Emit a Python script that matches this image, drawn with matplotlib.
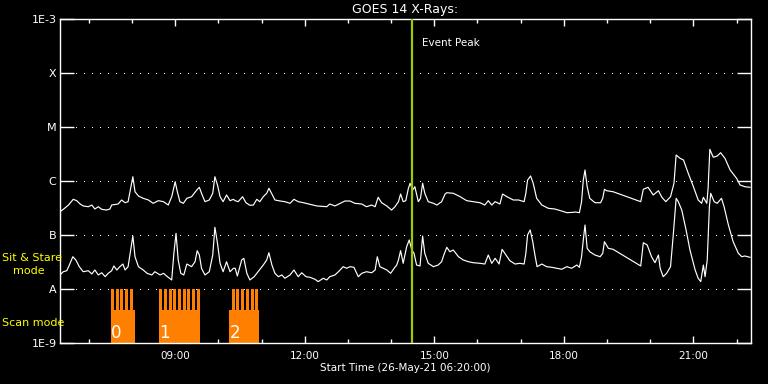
import matplotlib
matplotlib.use("Agg")
import matplotlib.pyplot as plt
from matplotlib.ticker import NullLocator
import numpy as np

# ---------------- data ----------------
# time in decimal hours (UT) on 26-May-21, flux in units of 1e-7 W/m^2
long_t = [6.33, 6.41, 6.53, 6.64, 6.72, 6.80, 6.87, 6.99, 7.07, 7.14,
          7.22, 7.30, 7.41, 7.49, 7.53, 7.68, 7.76, 7.84, 7.91, 7.97,
          8.02, 8.07, 8.15, 8.26, 8.38, 8.49, 8.61, 8.73, 8.84, 8.92,
          9.00, 9.05, 9.11, 9.19, 9.27, 9.38, 9.50, 9.56, 9.61, 9.69,
          9.79, 9.87, 9.92, 9.98, 10.04, 10.11, 10.19, 10.27, 10.35, 10.39,
          10.46, 10.56, 10.64, 10.73, 10.81, 10.89, 10.96, 11.04, 11.12, 11.17,
          11.24, 11.31, 11.43, 11.54, 11.66, 11.75, 11.85, 11.97, 12.12, 12.28,
          12.51, 12.58, 12.70, 12.82, 12.93, 13.05, 13.16, 13.32, 13.43, 13.55,
          13.63, 13.70, 13.78, 13.90, 14.01, 14.09, 14.17, 14.22, 14.28, 14.34,
          14.40, 14.44, 14.50, 14.55, 14.63, 14.68, 14.73, 14.78, 14.86, 14.98,
          15.06, 15.17, 15.25, 15.29, 15.44, 15.60, 15.75, 15.90, 16.06, 16.17,
          16.25, 16.33, 16.41, 16.52, 16.58, 16.68, 16.83, 16.95, 17.08, 17.12,
          17.16, 17.23, 17.29, 17.37, 17.49, 17.64, 17.79, 17.95, 18.07, 18.22,
          18.26, 18.36, 18.41, 18.45, 18.49, 18.54, 18.60, 18.72, 18.85, 18.90,
          18.94, 18.99, 19.14, 19.78, 19.84, 19.95, 20.07, 20.19, 20.27, 20.36,
          20.47, 20.55, 20.60, 20.69, 20.77, 20.88, 21.00, 21.11, 21.19, 21.23,
          21.31, 21.34, 21.38, 21.46, 21.55, 21.63, 21.73, 21.85, 22.00, 22.08,
          22.19, 22.31]
long_flux = [2.70, 2.99, 3.59, 4.58, 4.32, 3.75, 3.45, 3.34, 3.59, 3.03,
             3.34, 2.99, 2.90, 3.03, 3.59, 3.75, 4.45, 3.96, 4.14, 7.32,
             12.0, 6.33, 5.27, 4.78, 4.45, 3.86, 4.32, 4.14, 3.59, 5.12,
             9.7, 6.33, 4.14, 3.86, 4.78, 5.12, 6.81, 7.64, 5.92, 4.14,
             4.45, 5.92, 12.0, 8.43, 5.12, 4.14, 5.51, 4.32, 4.58, 4.32,
             4.14, 5.12, 3.96, 3.55, 3.59, 4.58, 4.14, 5.12, 5.92, 7.32,
             5.74, 4.45, 4.26, 4.14, 3.86, 4.58, 4.14, 3.96, 3.70, 3.45,
             3.34, 3.75, 3.45, 3.86, 4.26, 4.26, 3.86, 3.75, 3.34, 3.59,
             3.34, 4.99, 3.96, 3.45, 2.90, 3.34, 4.14, 5.74, 4.14, 4.32,
             7.32, 9.07, 6.81, 7.84, 4.14, 4.78, 9.07, 5.92, 4.14, 3.86,
             3.59, 4.14, 5.74, 6.07, 5.92, 5.12, 4.32, 4.14, 3.96, 3.59,
             4.32, 3.59, 4.14, 3.75, 5.74, 5.12, 4.45, 4.45, 4.14, 5.92,
             10.4, 12.4, 9.07, 4.78, 3.59, 3.12, 3.03, 2.78, 2.59, 2.63,
             2.67, 2.59, 4.14, 10.4, 16.0, 7.84, 4.78, 3.96, 3.96, 4.78,
             7.02, 6.61, 6.33, 4.14, 7.02, 7.64, 5.51, 6.61, 4.99, 4.14,
             5.12, 9.07, 30.3, 26.3, 24.5, 13.9, 7.84, 4.45, 3.86, 4.99,
             3.86, 7.32, 38.6, 27.5, 29.0, 33.4, 26.3, 16.0, 11.2, 8.43,
             7.84, 7.64]

short_t = [6.33, 6.41, 6.49, 6.55, 6.63, 6.70, 6.78, 6.87, 6.99, 7.07,
           7.14, 7.22, 7.30, 7.38, 7.45, 7.53, 7.58, 7.65, 7.72, 7.79,
           7.84, 7.91, 7.97, 8.02, 8.07, 8.15, 8.26, 8.35, 8.46, 8.53,
           8.65, 8.73, 8.82, 8.92, 8.97, 9.02, 9.07, 9.13, 9.20, 9.27,
           9.38, 9.46, 9.51, 9.56, 9.61, 9.69, 9.79, 9.87, 9.92, 9.98,
           10.04, 10.11, 10.19, 10.27, 10.35, 10.39, 10.44, 10.54, 10.59, 10.66,
           10.73, 10.83, 10.90, 10.98, 11.04, 11.12, 11.17, 11.24, 11.31, 11.39,
           11.47, 11.54, 11.66, 11.75, 11.85, 11.93, 12.03, 12.12, 12.24, 12.31,
           12.43, 12.51, 12.58, 12.70, 12.78, 12.89, 12.97, 13.05, 13.14, 13.24,
           13.32, 13.43, 13.55, 13.63, 13.68, 13.74, 13.82, 13.90, 13.99, 14.07,
           14.13, 14.17, 14.22, 14.28, 14.36, 14.42, 14.48, 14.53, 14.59, 14.67,
           14.73, 14.78, 14.86, 14.98, 15.09, 15.17, 15.22, 15.29, 15.36, 15.44,
           15.56, 15.67, 15.79, 15.90, 16.06, 16.17, 16.25, 16.33, 16.41, 16.50,
           16.57, 16.66, 16.75, 16.87, 16.98, 17.08, 17.12, 17.16, 17.22, 17.28,
           17.33, 17.38, 17.49, 17.60, 17.72, 17.83, 17.95, 18.07, 18.18, 18.30,
           18.36, 18.41, 18.45, 18.49, 18.54, 18.60, 18.72, 18.84, 18.90, 18.94,
           19.03, 19.14, 19.78, 19.84, 19.93, 20.03, 20.11, 20.19, 20.23, 20.30,
           20.38, 20.47, 20.53, 20.60, 20.65, 20.73, 20.83, 20.92, 21.04, 21.11,
           21.17, 21.23, 21.27, 21.32, 21.37, 21.40, 21.48, 21.55, 21.65, 21.71,
           21.81, 21.92, 22.04, 22.12, 22.19, 22.31]
short_flux = [0.182, 0.209, 0.218, 0.278, 0.396, 0.345, 0.259, 0.209, 0.218, 0.190,
              0.225, 0.182, 0.200, 0.169, 0.195, 0.218, 0.267, 0.225, 0.259, 0.290,
              0.225, 0.259, 0.527, 0.958, 0.396, 0.259, 0.225, 0.195, 0.182, 0.209,
              0.182, 0.195, 0.169, 0.147, 0.458, 1.075, 0.345, 0.195, 0.182, 0.290,
              0.259, 0.320, 0.512, 0.426, 0.242, 0.182, 0.209, 0.426, 1.389, 0.702,
              0.299, 0.209, 0.320, 0.209, 0.242, 0.242, 0.174, 0.345, 0.370, 0.195,
              0.147, 0.169, 0.200, 0.242, 0.278, 0.345, 0.470, 0.278, 0.195, 0.169,
              0.182, 0.158, 0.182, 0.225, 0.169, 0.200, 0.169, 0.165, 0.151, 0.137,
              0.158, 0.147, 0.169, 0.182, 0.209, 0.259, 0.242, 0.259, 0.252, 0.169,
              0.195, 0.209, 0.200, 0.225, 0.396, 0.259, 0.242, 0.225, 0.195, 0.242,
              0.278, 0.345, 0.512, 0.299, 0.607, 0.808, 0.527, 0.458, 0.278, 0.267,
              0.958, 0.458, 0.299, 0.259, 0.278, 0.320, 0.426, 0.592, 0.490, 0.527,
              0.396, 0.345, 0.320, 0.307, 0.299, 0.290, 0.426, 0.299, 0.370, 0.290,
              0.543, 0.426, 0.334, 0.290, 0.299, 0.290, 0.458, 1.0, 1.238, 0.752,
              0.426, 0.259, 0.290, 0.259, 0.252, 0.242, 0.232, 0.259, 0.242, 0.278,
              0.252, 0.396, 0.808, 1.531, 0.567, 0.490, 0.426, 0.396, 0.458, 0.752,
              0.567, 0.543, 0.267, 0.720, 0.653, 0.396, 0.307, 0.426, 0.242, 0.169,
              0.195, 0.259, 0.930, 4.78, 4.14, 2.90, 1.238, 0.527, 0.225, 0.158,
              0.137, 0.278, 0.169, 0.345, 3.34, 5.92, 4.14, 3.86, 4.78, 3.34,
              1.531, 0.752, 0.458, 0.396, 0.409, 0.386]

# scan-mode periods: start times of individual scans (hours), grouped by block
scan_blocks = [
    [7.51, 7.62, 7.72, 7.83, 7.95],
    [8.63, 8.74, 8.85, 8.96, 9.07, 9.18, 9.28, 9.39, 9.50],
    [10.32, 10.42, 10.53, 10.64, 10.75, 10.86],
]
scan_block_start = [7.51, 8.63, 10.25]
scan_block_end = [8.07, 9.57, 10.94]
scan_labels = ["0", "1", "2"]
scan_duration = 0.069

event_peak = 14.48
x_start, x_end = 6 + 20 / 60, 22 + 20 / 60

class_levels = [1e-9, 1e-8, 1e-7, 1e-6, 1e-5, 1e-4, 1e-3]
class_labels = ["1E-9", "A", "B", "C", "M", "X", "1E-3"]
hour_ticks = [9, 12, 15, 18, 21]
hour_labels = ["09:00", "12:00", "15:00", "18:00", "21:00"]

# ---------------- plot ----------------
W, H = 768, 384
fig = plt.figure(figsize=(W / 100, H / 100), dpi=100, facecolor="black")
ax = fig.add_axes([60 / W, (H - 343) / H, 691 / W, 324 / H])
ax.set_facecolor("black")
ax.set_yscale("log")
ax.set_ylim(1e-9, 1e-3)
ax.set_xlim(x_start, x_end)

# dotted class grid lines
for lvl in class_levels[1:-1]:
    ax.axhline(lvl, color="white", lw=1.0, ls=(0, (0.72, 5.28)),
               antialiased=False, zorder=1)

# scan mode blocks
orange = "#ff8000"
scan_base = 4.1e-9
for blk, s, e in zip(scan_blocks, scan_block_start, scan_block_end):
    ax.bar(s, scan_base - 1e-9, bottom=1e-9, width=e - s, align="edge",
           color=orange, linewidth=0, zorder=2)
    ax.bar(blk, [1e-8 - scan_base] * len(blk), bottom=scan_base,
           width=scan_duration, align="edge", color=orange, linewidth=0, zorder=2)
for s, lab in zip(scan_block_start, scan_labels):
    ax.text(s + 0.01, 1.5e-9, lab, color="white", fontsize=12,
            ha="left", va="center", zorder=3)

# light curves
ax.plot(long_t, np.array(long_flux) * 1e-7, color="white", lw=0.85, zorder=4)
ax.plot(short_t, np.array(short_flux) * 1e-7, color="white", lw=0.85, zorder=4)

# event peak
ax.axvline(event_peak, color="#9ccb00", lw=1.6, zorder=5)
ax.text(event_peak + 0.24, 3.6e-4, "Event Peak", color="white", fontsize=7.5,
        ha="left", va="center")

# axes styling
for sp in ax.spines.values():
    sp.set_color("white")
    sp.set_linewidth(1)
ax.set_yticks(class_levels)
ax.set_yticklabels(class_labels)
ax.yaxis.set_minor_locator(NullLocator())
ax.tick_params(axis="y", which="major", direction="in", length=10, width=1,
               color="white", labelcolor="white", left=True, right=True,
               labelsize=8, pad=2.5)
ax.set_xticks(hour_ticks)
ax.set_xticklabels(hour_labels)
ax.set_xticks(np.arange(7, 23, 1), minor=True)
ax.tick_params(axis="x", which="major", direction="in", length=5, width=1,
               color="white", labelcolor="white", top=True, bottom=True,
               labelsize=7.5, pad=6)
ax.tick_params(axis="x", which="minor", direction="in", length=3, width=1,
               color="white", top=True, bottom=True)

# texts
fig.text(405 / W, 1 - 9.5 / H, "GOES 14 X-Rays:", color="white", fontsize=9,
         ha="center", va="center")
fig.text(405 / W, 1 - 368 / H, "Start Time (26-May-21 06:20:00)", color="white",
         fontsize=7.5, ha="center", va="center")
fig.text(2 / W, 1 - 258 / H, "Sit & Stare", color="yellow", fontsize=8,
         ha="left", va="center")
fig.text(12.5 / W, 1 - 271 / H, "mode", color="yellow", fontsize=8,
         ha="left", va="center")
fig.text(2 / W, 1 - 323.5 / H, "Scan mode", color="yellow", fontsize=8,
         ha="left", va="center")

fig.savefig("out.png", dpi=100, facecolor="black")
